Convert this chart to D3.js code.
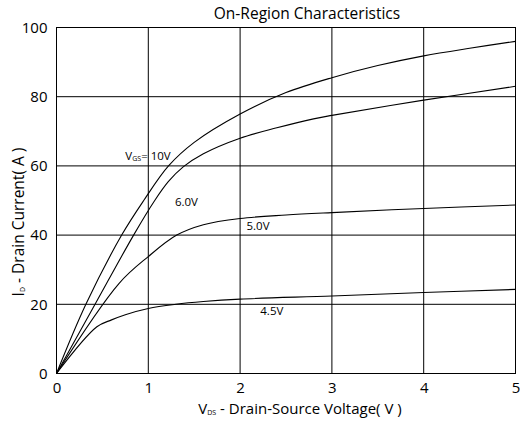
<!DOCTYPE html>
<html>
<head>
<meta charset="utf-8">
<script src="https://cdn.jsdelivr.net/npm/d3@7"></script>
<style>
  body { margin: 0; background: #fff; }
  text { font-family: "Open Sans", "Noto Sans", sans-serif; fill: #000; }
</style>
</head>
<body>
<div></div>
<script>
var width = 520;
var height = 421;
var margin = { top: 27.5, right: 4.5, bottom: 47.5, left: 56.5 };

// V_DS (V), I_D (A)
var vgs10 = [[0, 0], [0.32, 20], [0.71, 40], [0.95, 50], [1.22, 60], [1.5, 66.8], [2, 75], [2.5, 81.2], [3, 85.5], [3.5, 89], [4, 91.8], [4.5, 94], [5, 96]];
var vgs6 = [[0, 0], [0.42, 20], [0.84, 40], [1.07, 50], [1.22, 55.5], [1.38, 59.7], [1.6, 63.5], [2, 68], [2.4, 71], [2.8, 73.6], [3, 74.6], [4, 79], [5, 83]];
var vgs5 = [[0, 0], [0.68, 26], [1, 33.8], [1.31, 40], [1.6, 43], [2, 44.8], [2.5, 45.8], [3, 46.5], [4, 47.7], [5, 48.7]];
var vgs45 = [[0, 0], [0.44, 13.5], [0.6, 15.5], [0.75, 17], [1, 18.8], [1.3, 20], [1.6, 20.8], [2, 21.5], [3, 22.4], [4, 23.4], [5, 24.3]];

var xTicks = [0, 1, 2, 3, 4, 5];
var yTicks = [0, 20, 40, 60, 80, 100];

var curves = [
  { name: "10V", data: vgs10 },
  { name: "6.0V", data: vgs6 },
  { name: "5.0V", data: vgs5 },
  { name: "4.5V", data: vgs45 }
];

// curve labels: [label, V_DS, I_D] of the text anchor point
var labels = [
  ["6.0V", 1.29, 48.5],
  ["5.0V", 2.07, 41.5],
  ["4.5V", 2.22, 16.8]
];

var svg = d3.select("div")
  .append("svg")
  .attr("width", width)
  .attr("height", height);

var x = d3.scaleLinear()
  .domain([0, 5])
  .range([margin.left, width - margin.right]);

var y = d3.scaleLinear()
  .domain([0, 100])
  .range([height - margin.bottom, margin.top]);

// grid
var grid = svg.append("g").attr("stroke", "#000").attr("stroke-width", 1);
grid.selectAll(".vx")
  .data(xTicks.slice(1, -1))
  .join("line")
  .attr("x1", (d) => x(d)).attr("x2", (d) => x(d))
  .attr("y1", y(0)).attr("y2", y(100));
grid.selectAll(".hy")
  .data(yTicks.slice(1, -1))
  .join("line")
  .attr("y1", (d) => y(d)).attr("y2", (d) => y(d))
  .attr("x1", x(0)).attr("x2", x(5));

// frame
svg.append("rect")
  .attr("x", x(0))
  .attr("y", y(100))
  .attr("width", x(5) - x(0))
  .attr("height", y(0) - y(100))
  .attr("fill", "none")
  .attr("stroke", "#000");

// axes (labels only)
svg.append("g")
  .attr("transform", `translate(0,${y(0)})`)
  .call(d3.axisBottom(x).tickValues(xTicks).tickSize(0).tickPadding(9).tickFormat(d3.format("d")))
  .call((g) => g.select(".domain").remove())
  .call((g) => g.selectAll("text").attr("font-size", 15).attr("font-family", null).attr("fill", "#000"));

svg.append("g")
  .attr("transform", `translate(${x(0)},0)`)
  .call(d3.axisLeft(y).tickValues(yTicks).tickSize(0).tickPadding(9))
  .call((g) => g.select(".domain").remove())
  .call((g) => g.selectAll("text").attr("font-size", 15).attr("font-family", null).attr("fill", "#000"));

// curves
var line = d3.line()
  .x((d) => x(d[0]))
  .y((d) => y(d[1]))
  .curve(d3.curveCatmullRom.alpha(0.5));

svg.append("g")
  .selectAll("path")
  .data(curves)
  .join("path")
  .attr("d", (d) => line(d.data))
  .attr("fill", "none")
  .attr("stroke", "#000")
  .attr("stroke-width", 1.1);

// V_GS label
var vgsLabel = svg.append("text")
  .attr("x", x(0.75))
  .attr("y", y(61.7))
  .attr("font-size", 11.5);
vgsLabel.append("tspan").text("V");
vgsLabel.append("tspan").attr("font-size", 7).attr("dy", 1).text("GS");
vgsLabel.append("tspan").attr("dy", -1).text("= 10V");

svg.append("g")
  .selectAll("text")
  .data(labels)
  .join("text")
  .attr("x", (d) => x(d[1]))
  .attr("y", (d) => y(d[2]))
  .attr("font-size", 11.5)
  .text((d) => d[0]);

// title
svg.append("text")
  .attr("x", 307)
  .attr("y", 19)
  .attr("text-anchor", "middle")
  .attr("font-size", 15.5)
  .text("On-Region Characteristics");

// x axis title
var xt = svg.append("text")
  .attr("x", 300)
  .attr("y", 414)
  .attr("text-anchor", "middle")
  .attr("font-size", 15);
xt.append("tspan").text("V");
xt.append("tspan").attr("font-size", 7).attr("dy", 1).text("DS");
xt.append("tspan").attr("dy", -1).text(" - Drain-Source Voltage( V )");

// y axis title
var yt = svg.append("text")
  .attr("transform", "translate(24,222) rotate(-90)")
  .attr("text-anchor", "middle")
  .attr("font-size", 15.5);
yt.append("tspan").text("I");
yt.append("tspan").attr("font-size", 7).attr("dy", 1).text("D");
yt.append("tspan").attr("dy", -1).text(" - Drain Current( A )");
</script>
</body>
</html>
